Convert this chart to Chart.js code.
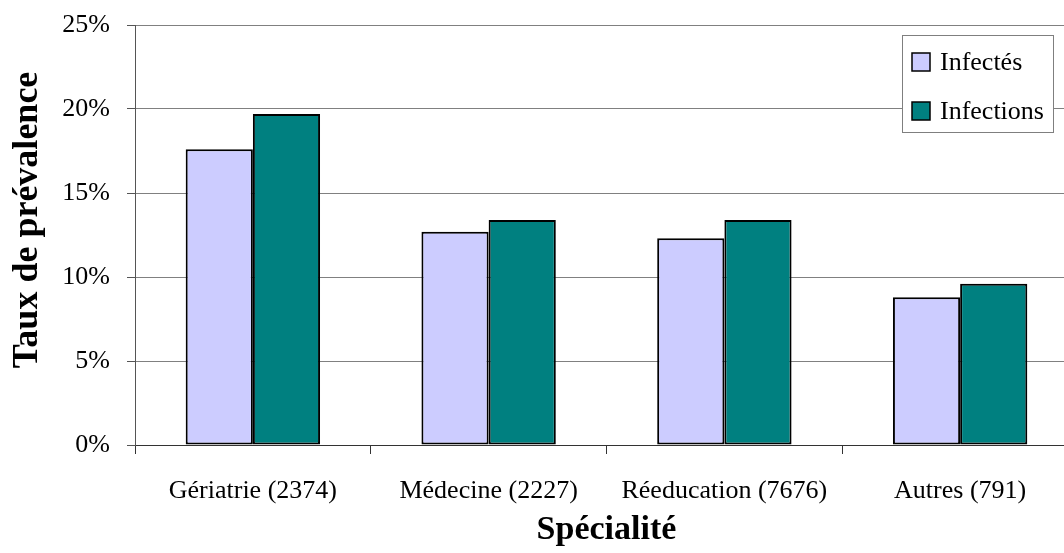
<!DOCTYPE html>
<html>
<head>
<meta charset="utf-8">
<script src="https://cdn.jsdelivr.net/npm/chart.js@4/dist/chart.umd.min.js"></script>
<style>
  html, body { margin: 0; padding: 0; background: #fff; }
  #wrap { width: 1064px; height: 553px; overflow: hidden; position: relative; }
  canvas { display: block; }
</style>
</head>
<body>
<div id="wrap"><canvas id="c" width="1078" height="553"></canvas></div>
<script>
// Prevalence rate by specialty (number of patients in brackets)
const categories = ['Gériatrie (2374)', 'Médecine (2227)', 'Réeducation (7676)', 'Autres (791)'];
const infectes = [17.6, 12.7, 12.3, 8.8];     // % of infected patients
const infections = [19.7, 13.4, 13.4, 9.6];   // % of infections
const seriesNames = ['Infectés', 'Infections'];
const yTicks = [0, 5, 10, 15, 20, 25];
const yTitle = 'Taux de prévalence';
const xTitle = 'Spécialité';

const SERIF = "'Liberation Serif', 'Times New Roman', serif";

// Framed legend in the upper-right corner of the plot area,
// plus the vertical axis title placed slightly above the axis centre
const decorations = {
  id: 'decorations',
  afterDraw(chart) {
    const { ctx, chartArea } = chart;
    ctx.save();

    // y-axis title
    ctx.translate(28, (chartArea.top + chartArea.bottom) / 2 - 15);
    ctx.rotate(-Math.PI / 2);
    ctx.font = 'bold 36px ' + SERIF;
    ctx.fillStyle = '#000';
    ctx.textAlign = 'center';
    ctx.textBaseline = 'middle';
    ctx.fillText(yTitle, 0, 0);
    ctx.setTransform(1, 0, 0, 1, 0, 0);

    // legend
    const x = chartArea.right - 176, y = chartArea.top + 10;
    const w = 151, h = 97;
    ctx.fillStyle = '#ffffff';
    ctx.fillRect(x, y, w, h);
    ctx.strokeStyle = '#7f7f7f';
    ctx.lineWidth = 1;
    ctx.strokeRect(x + 0.5, y + 0.5, w, h);
    ctx.font = '26px ' + SERIF;
    ctx.textAlign = 'left';
    ctx.textBaseline = 'middle';
    chart.data.datasets.forEach((ds, i) => {
      const cy = y + 27 + i * 49;
      ctx.fillStyle = ds.backgroundColor;
      ctx.fillRect(x + 10, cy - 9, 18, 18);
      ctx.strokeStyle = '#000';
      ctx.lineWidth = 1.5;
      ctx.strokeRect(x + 10, cy - 9, 18, 18);
      ctx.fillStyle = '#000';
      ctx.fillText(ds.label, x + 38, cy + 1);
    });
    ctx.restore();
  }
};

new Chart(document.getElementById('c'), {
  type: 'bar',
  data: {
    labels: categories,
    datasets: [
      { label: seriesNames[0], data: infectes, backgroundColor: '#CCCCFF',
        borderColor: '#000', borderWidth: 2, borderSkipped: false },
      { label: seriesNames[1], data: infections, backgroundColor: '#008080',
        borderColor: '#000', borderWidth: 2, borderSkipped: false }
    ]
  },
  options: {
    responsive: false,
    animation: false,
    devicePixelRatio: 1,
    layout: { padding: { top: 25, right: 0, bottom: 0, left: 0 } },
    datasets: { bar: { categoryPercentage: 0.57, barPercentage: 1.0 } },
    plugins: { legend: { display: false }, tooltip: { enabled: false } },
    scales: {
      x: {
        grid: { offset: true, drawOnChartArea: false, drawTicks: true, tickLength: 9, color: '#333' },
        border: { color: '#333', width: 1 },
        ticks: { color: '#000', font: { family: SERIF, size: 26 }, padding: 22, maxRotation: 0 },
        title: { display: true, text: xTitle, color: '#000',
                 font: { family: SERIF, size: 34, weight: 'bold' }, padding: { top: 0, bottom: 2 } },
        afterFit(scale) { scale.height = 108; scale.paddingLeft = 0; scale.paddingRight = 0; }
      },
      y: {
        min: yTicks[0],
        max: yTicks[yTicks.length - 1],
        afterBuildTicks(scale) { scale.ticks = yTicks.map(v => ({ value: v })); },
        grid: { color: '#808080', lineWidth: 1, drawTicks: true, tickLength: 8, tickColor: '#555' },
        border: { color: '#555', width: 1 },
        ticks: { color: '#000', font: { family: SERIF, size: 26 }, padding: 17,
                 callback: v => v + '%' },
        title: { display: false },
        afterFit(scale) { scale.width = 135; scale.paddingTop = 0; scale.paddingBottom = 0; }
      }
    }
  },
  plugins: [decorations]
});
</script>
</body>
</html>
